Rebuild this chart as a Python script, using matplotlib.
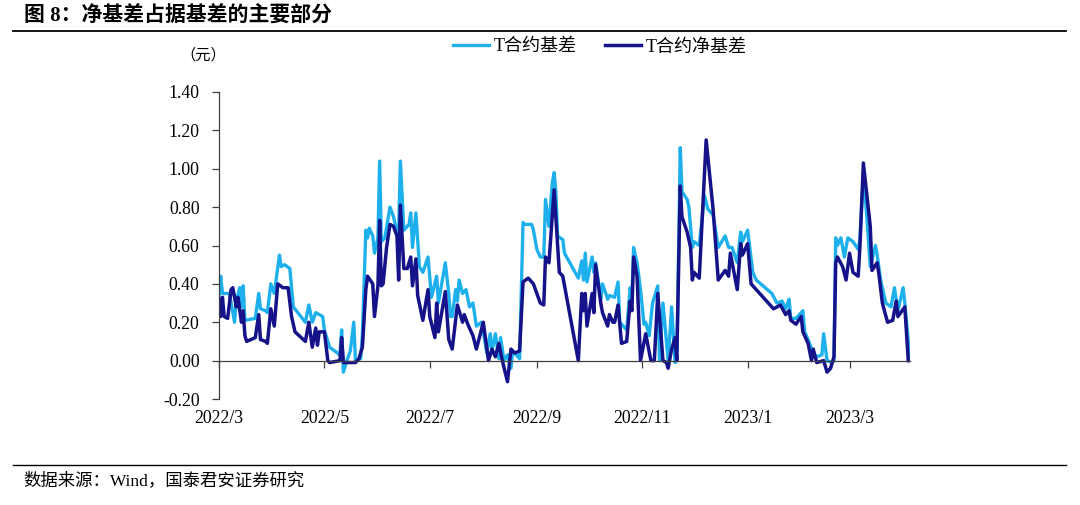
import matplotlib
matplotlib.use("Agg")
import matplotlib.pyplot as plt
import matplotlib.dates as mdates
import matplotlib.transforms as mtransforms
import pandas as pd

plt.rcParams['font.family'] = ['Liberation Serif', 'Noto Sans CJK SC', 'DejaVu Sans']

title = "图 8：净基差占据基差的主要部分"
source = "数据来源：Wind，国泰君安证券研究"
unit = "（元）"
series_names = ["T合约基差", "T合约净基差"]

basis_dates = [
    "2022-03-01", "2022-03-02", "2022-03-03", "2022-03-07", "2022-03-10", "2022-03-11", "2022-03-13",
    "2022-03-14", "2022-03-15", "2022-03-16", "2022-03-22", "2022-03-24", "2022-03-25", "2022-03-28",
    "2022-03-29", "2022-03-31", "2022-04-02", "2022-04-05", "2022-04-06", "2022-04-08", "2022-04-11",
    "2022-04-13", "2022-04-20", "2022-04-22", "2022-04-24", "2022-04-26", "2022-04-30", "2022-05-01",
    "2022-05-04", "2022-05-07", "2022-05-10", "2022-05-11", "2022-05-12", "2022-05-14", "2022-05-16",
    "2022-05-18", "2022-05-19", "2022-05-22", "2022-05-23", "2022-05-25", "2022-05-26", "2022-05-27",
    "2022-05-29", "2022-05-30", "2022-06-01", "2022-06-02", "2022-06-03", "2022-06-05", "2022-06-08",
    "2022-06-10", "2022-06-12", "2022-06-13", "2022-06-14", "2022-06-16", "2022-06-19", "2022-06-20",
    "2022-06-21", "2022-06-23", "2022-06-25", "2022-06-27", "2022-06-30", "2022-07-02", "2022-07-05",
    "2022-07-06", "2022-07-10", "2022-07-12", "2022-07-13", "2022-07-14", "2022-07-16", "2022-07-17",
    "2022-07-18", "2022-07-20", "2022-07-22", "2022-07-24", "2022-07-26", "2022-07-28", "2022-07-31",
    "2022-08-01", "2022-08-03", "2022-08-05", "2022-08-06", "2022-08-08", "2022-08-10", "2022-08-11",
    "2022-08-13", "2022-08-15", "2022-08-17", "2022-08-18", "2022-08-20", "2022-08-22", "2022-08-24",
    "2022-08-25", "2022-08-29", "2022-08-30", "2022-09-01", "2022-09-03", "2022-09-05", "2022-09-06",
    "2022-09-08", "2022-09-10", "2022-09-11", "2022-09-12", "2022-09-13", "2022-09-16", "2022-09-17",
    "2022-09-25", "2022-09-27", "2022-09-28", "2022-09-29", "2022-09-30", "2022-10-03", "2022-10-04",
    "2022-10-05", "2022-10-07", "2022-10-08", "2022-10-09", "2022-10-12", "2022-10-13", "2022-10-16",
    "2022-10-18", "2022-10-19", "2022-10-23", "2022-10-25", "2022-10-26", "2022-10-27", "2022-10-29",
    "2022-10-31", "2022-11-02", "2022-11-03", "2022-11-05", "2022-11-07", "2022-11-10", "2022-11-11",
    "2022-11-13", "2022-11-16", "2022-11-18", "2022-11-20", "2022-11-21", "2022-11-23", "2022-11-24",
    "2022-11-27", "2022-11-28", "2022-11-30", "2022-12-01", "2022-12-04", "2022-12-07", "2022-12-09",
    "2022-12-12", "2022-12-15", "2022-12-19", "2022-12-21", "2022-12-23", "2022-12-26", "2022-12-28",
    "2022-12-29", "2023-01-01", "2023-01-04", "2023-01-06", "2023-01-15", "2023-01-18", "2023-01-21",
    "2023-01-23", "2023-01-25", "2023-01-26", "2023-01-29", "2023-02-02", "2023-02-03", "2023-02-05",
    "2023-02-08", "2023-02-10", "2023-02-13", "2023-02-14", "2023-02-16", "2023-02-19", "2023-02-20",
    "2023-02-21", "2023-02-22", "2023-02-24", "2023-02-26", "2023-02-28", "2023-03-03", "2023-03-06",
    "2023-03-07", "2023-03-09", "2023-03-11", "2023-03-13", "2023-03-16", "2023-03-17", "2023-03-19",
    "2023-03-22", "2023-03-25", "2023-03-27", "2023-03-29", "2023-04-01", "2023-04-02", "2023-04-05",
]
basis_values = [
    0.33, 0.44, 0.35, 0.35, 0.20, 0.31, 0.38,
    0.28, 0.39, 0.21, 0.22, 0.35, 0.27, 0.26,
    0.25, 0.40, 0.35, 0.55, 0.49, 0.50, 0.48,
    0.28, 0.20, 0.29, 0.20, 0.25, 0.23, 0.16,
    0.07, 0.05, 0.03, 0.16, -0.06, 0.00, 0.05,
    0.20, 0.00, 0.01, 0.13, 0.68, 0.64, 0.69,
    0.65, 0.56, 0.64, 1.04, 0.62, 0.64, 0.80,
    0.75, 0.67, 0.68, 1.04, 0.68, 0.71, 0.77,
    0.59, 0.77, 0.49, 0.46, 0.54, 0.33, 0.44,
    0.30, 0.51, 0.35, 0.23, 0.23, 0.37, 0.31,
    0.42, 0.35, 0.37, 0.28, 0.30, 0.18, 0.20,
    0.15, 0.04, 0.14, 0.05, 0.14, 0.01, 0.12,
    0.00, 0.03, -0.04, 0.05, 0.03, 0.01, 0.72,
    0.71, 0.71, 0.68, 0.58, 0.54, 0.54, 0.84,
    0.70, 0.93, 0.98, 0.88, 0.65, 0.63, 0.56,
    0.43, 0.52, 0.42, 0.56, 0.41, 0.54, 0.46,
    0.51, 0.39, 0.32, 0.40, 0.32, 0.34, 0.33,
    0.41, 0.20, 0.16, 0.38, 0.32, 0.59, 0.51,
    0.37, 0.19, 0.20, 0.13, 0.30, 0.39, 0.00,
    0.30, 0.00, 0.28, -0.01, 0.00, 1.11, 0.88,
    0.84, 0.80, 0.59, 0.62, 0.60, 0.86, 0.79,
    0.76, 0.59, 0.65, 0.59, 0.59, 0.51, 0.67,
    0.62, 0.68, 0.46, 0.42, 0.35, 0.30, 0.31,
    0.27, 0.32, 0.22, 0.22, 0.26, 0.15, 0.11,
    0.04, 0.02, 0.03, 0.14, 0.00, -0.01, 0.00,
    0.64, 0.60, 0.64, 0.54, 0.64, 0.62, 0.58,
    0.63, 0.98, 0.75, 0.49, 0.60, 0.55, 0.42,
    0.30, 0.28, 0.38, 0.26, 0.38, 0.30, 0.00,
]

net_dates = [
    "2022-03-01", "2022-03-02", "2022-03-03", "2022-03-04", "2022-03-06", "2022-03-08", "2022-03-09",
    "2022-03-11", "2022-03-12", "2022-03-14", "2022-03-15", "2022-03-16", "2022-03-17", "2022-03-22",
    "2022-03-24", "2022-03-25", "2022-03-28", "2022-03-29", "2022-03-31", "2022-04-02", "2022-04-04",
    "2022-04-07", "2022-04-10", "2022-04-12", "2022-04-14", "2022-04-20", "2022-04-22", "2022-04-24",
    "2022-04-26", "2022-04-27", "2022-04-28", "2022-05-01", "2022-05-03", "2022-05-04", "2022-05-10",
    "2022-05-11", "2022-05-12", "2022-05-19", "2022-05-21", "2022-05-23", "2022-05-25", "2022-05-26",
    "2022-05-29", "2022-05-30", "2022-06-01", "2022-06-02", "2022-06-03", "2022-06-04", "2022-06-06",
    "2022-06-08", "2022-06-10", "2022-06-12", "2022-06-13", "2022-06-14", "2022-06-16", "2022-06-18",
    "2022-06-20", "2022-06-21", "2022-06-23", "2022-06-24", "2022-06-27", "2022-06-30", "2022-07-01",
    "2022-07-04", "2022-07-05", "2022-07-06", "2022-07-10", "2022-07-12", "2022-07-14", "2022-07-17",
    "2022-07-20", "2022-07-21", "2022-07-23", "2022-07-26", "2022-07-28", "2022-08-01", "2022-08-04",
    "2022-08-06", "2022-08-08", "2022-08-10", "2022-08-12", "2022-08-15", "2022-08-17", "2022-08-19",
    "2022-08-22", "2022-08-24", "2022-08-27", "2022-08-30", "2022-09-03", "2022-09-05", "2022-09-06",
    "2022-09-08", "2022-09-11", "2022-09-14", "2022-09-16", "2022-09-25", "2022-09-27", "2022-09-28",
    "2022-09-29", "2022-09-30", "2022-10-03", "2022-10-04", "2022-10-05", "2022-10-08", "2022-10-09",
    "2022-10-12", "2022-10-13", "2022-10-15", "2022-10-16", "2022-10-18", "2022-10-20", "2022-10-23",
    "2022-10-25", "2022-10-26", "2022-10-27", "2022-10-29", "2022-10-31", "2022-11-03", "2022-11-06",
    "2022-11-08", "2022-11-10", "2022-11-13", "2022-11-15", "2022-11-16", "2022-11-18", "2022-11-20",
    "2022-11-21", "2022-11-23", "2022-11-24", "2022-11-27", "2022-11-29", "2022-11-30", "2022-12-01",
    "2022-12-04", "2022-12-08", "2022-12-12", "2022-12-15", "2022-12-19", "2022-12-21", "2022-12-22",
    "2022-12-26", "2022-12-28", "2022-12-29", "2023-01-01", "2023-01-03", "2023-01-06", "2023-01-16",
    "2023-01-20", "2023-01-23", "2023-01-25", "2023-01-26", "2023-01-29", "2023-02-01", "2023-02-02",
    "2023-02-05", "2023-02-07", "2023-02-08", "2023-02-10", "2023-02-14", "2023-02-16", "2023-02-18",
    "2023-02-20", "2023-02-21", "2023-02-22", "2023-02-25", "2023-02-27", "2023-03-01", "2023-03-03",
    "2023-03-06", "2023-03-07", "2023-03-09", "2023-03-13", "2023-03-14", "2023-03-17", "2023-03-18",
    "2023-03-20", "2023-03-23", "2023-03-26", "2023-03-28", "2023-03-29", "2023-04-02", "2023-04-04",
]
net_values = [
    0.32, 0.23, 0.33, 0.23, 0.22, 0.37, 0.38,
    0.28, 0.33, 0.20, 0.26, 0.13, 0.10, 0.12,
    0.24, 0.11, 0.10, 0.09, 0.27, 0.18, 0.40,
    0.38, 0.38, 0.23, 0.15, 0.10, 0.20, 0.07,
    0.17, 0.08, 0.15, 0.15, 0.00, -0.01, 0.00,
    0.12, -0.01, -0.01, 0.01, 0.07, 0.37, 0.44,
    0.40, 0.23, 0.39, 0.73, 0.39, 0.40, 0.59,
    0.71, 0.70, 0.65, 0.42, 0.81, 0.48, 0.48,
    0.54, 0.39, 0.53, 0.34, 0.21, 0.37, 0.23,
    0.12, 0.30, 0.15, 0.36, 0.11, 0.06, 0.29,
    0.20, 0.24, 0.19, 0.13, 0.06, 0.20, 0.00,
    0.06, 0.02, 0.09, 0.00, -0.11, 0.06, 0.04,
    0.05, 0.41, 0.43, 0.40, 0.30, 0.29, 0.54,
    0.51, 0.89, 0.46, 0.44, 0.00, 0.35, 0.26,
    0.35, 0.18, 0.35, 0.25, 0.50, 0.30, 0.25,
    0.18, 0.24, 0.20, 0.20, 0.29, 0.09, 0.10,
    0.31, 0.26, 0.54, 0.44, 0.00, 0.14, 0.00,
    0.00, 0.35, 0.00, -0.01, -0.04, 0.06, 0.12,
    0.00, 0.91, 0.75, 0.67, 0.59, 0.42, 0.46,
    0.43, 1.15, 0.79, 0.42, 0.47, 0.44, 0.56,
    0.37, 0.61, 0.55, 0.61, 0.40, 0.37, 0.27,
    0.29, 0.24, 0.26, 0.21, 0.19, 0.23, 0.15,
    0.09, 0.00, 0.06, -0.01, 0.00, -0.06, -0.04,
    0.02, 0.51, 0.54, 0.49, 0.42, 0.56, 0.46,
    0.44, 0.59, 1.03, 0.70, 0.47, 0.51, 0.45,
    0.30, 0.20, 0.21, 0.31, 0.23, 0.28, 0.00,
]

y_ticks = [-0.20, 0.00, 0.20, 0.40, 0.60, 0.80, 1.00, 1.20, 1.40]
x_tick_dates = ["2022-03-01", "2022-05-01", "2022-07-01", "2022-09-01",
                "2022-11-01", "2023-01-01", "2023-03-01"]
x_tick_labels = ["2022/3", "2022/5", "2022/7", "2022/9", "2022/11", "2023/1", "2023/3"]
x_start, x_end = "2022-03-01", "2023-04-05"

light_color = "#1EB0EC"
dark_color = "#15128A"

fig = plt.figure(figsize=(10.8, 5.05), dpi=100)
ax = fig.add_axes([219 / 1080, (505 - 399) / 505, (910 - 219) / 1080, 307 / 505])

ax.plot(pd.to_datetime(basis_dates), basis_values, color=light_color, lw=2.4,
        label=series_names[0], solid_joinstyle='round')
ax.plot(pd.to_datetime(net_dates), net_values, color=dark_color, lw=2.5,
        label=series_names[1], solid_joinstyle='round')

ax.set_xlim(pd.Timestamp(x_start), pd.Timestamp(x_end))
ax.set_ylim(-0.2, 1.4)
ax.set_yticks(y_ticks)
ax.set_yticklabels([f"{v:.2f}" for v in y_ticks])

for s in ['top', 'right']:
    ax.spines[s].set_visible(False)
ax.spines['left'].set_color('#404040')
ax.spines['left'].set_linewidth(0.9)
ax.spines['bottom'].set_position(('data', 0))
ax.spines['bottom'].set_color('#404040')
ax.spines['bottom'].set_linewidth(0.9)
ax.tick_params(axis='y', direction='out', length=5, width=0.9, color='#404040',
               labelsize=12.8, pad=9, labelcolor='black')
ax.set_xticks(pd.to_datetime(x_tick_dates))
ax.tick_params(axis='x', direction='out', length=5, width=0.9, color='#404040',
               labelbottom=False)
trans = mtransforms.blended_transform_factory(ax.transData, ax.transAxes)
for d, lab in zip(pd.to_datetime(x_tick_dates), x_tick_labels):
    ax.text(d, -0.062, lab, transform=trans, ha='center', va='center', fontsize=12.8)

leg = ax.legend(loc='center', bbox_to_anchor=(600 / 1080, (505 - 47) / 505),
                bbox_transform=fig.transFigure, ncol=2, frameon=False,
                fontsize=13, handlelength=2.0, columnspacing=1.55, handletextpad=0.25)

fig.text(203 / 1080, 1 - 55 / 505, unit, ha='center', va='center', fontsize=11)
fig.text(24 / 1080, 1 - 17 / 505, title, ha='left', va='center', fontsize=15,
         fontweight='bold')
fig.add_artist(plt.Line2D([13 / 1080, 1066 / 1080], [1 - 31 / 505, 1 - 31 / 505],
                          color='black', lw=1.3, transform=fig.transFigure))
fig.add_artist(plt.Line2D([13 / 1080, 1066 / 1080], [1 - 465 / 505, 1 - 465 / 505],
                          color='black', lw=1.0, transform=fig.transFigure))
fig.text(23 / 1080, 1 - 481 / 505, source, ha='left', va='center', fontsize=12.5)

fig.savefig("out.png", dpi=100)
